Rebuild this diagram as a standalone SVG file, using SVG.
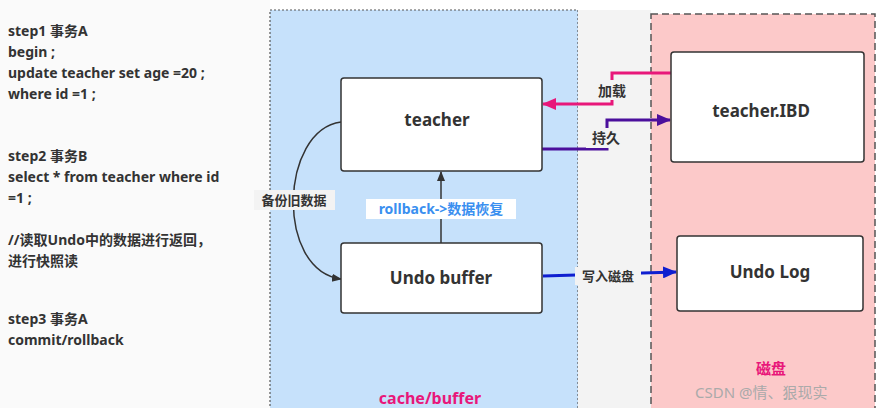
<svg xmlns="http://www.w3.org/2000/svg" width="881" height="408" viewBox="0 0 881 408">
<style>
text{font-family:"Noto Sans","Noto Sans CJK SC",sans-serif;font-weight:bold;fill:#333}
.node{fill:#fff;stroke:#333;stroke-width:1.5}
.big{font-size:17px}
</style>
<defs>
<marker id="aD" markerWidth="10" markerHeight="10" refX="9" refY="5" orient="auto" markerUnits="userSpaceOnUse"><path d="M0,1 L10,5 L0,9 Z" fill="#333"/></marker>
<marker id="aP" markerWidth="14" markerHeight="12" refX="13" refY="6" orient="auto" markerUnits="userSpaceOnUse"><path d="M0,0 L14,6 L0,12 Z" fill="#e8177a"/></marker>
<marker id="aV" markerWidth="14" markerHeight="12" refX="13" refY="6" orient="auto" markerUnits="userSpaceOnUse"><path d="M0,0 L14,6 L0,12 Z" fill="#4b0f9c"/></marker>
<marker id="aB" markerWidth="14" markerHeight="12" refX="13" refY="6" orient="auto" markerUnits="userSpaceOnUse"><path d="M0,0 L14,6 L0,12 Z" fill="#0f1fd0"/></marker>
</defs>
<rect width="881" height="408" fill="#fff"/>
<rect x="0" y="0" width="270" height="408" fill="#fafafa"/>
<g id="cache">
<rect x="270" y="10" width="308" height="410" fill="#c6e1fb" stroke="#555" stroke-dasharray="2,2" stroke-width="1.2"/>
<text x="430" y="404" font-size="16" text-anchor="middle" style="fill:#e8177a">cache/buffer</text>
</g>
<rect x="578" y="10" width="73" height="398" fill="#f3f3f3"/>
<g id="disk">
<rect x="651" y="14" width="224" height="400" fill="#fcc9c9" stroke="#555" stroke-dasharray="7,4" stroke-width="1.5"/>
<text x="771" y="374" font-size="15" text-anchor="middle" style="fill:#e8177a">磁盘</text>
</g>
<g id="steps" font-size="14">
<text x="8" y="36">step1  事务A</text>
<text x="8" y="57">begin ;</text>
<text x="8" y="78">update teacher set age =20 ;</text>
<text x="8" y="99">where id =1 ;</text>
<text x="8" y="161">step2  事务B</text>
<text x="8" y="182">select * from teacher where id</text>
<text x="8" y="203">=1 ;</text>
<text x="8" y="245">//读取Undo中的数据进行返回，</text>
<text x="8" y="266">进行快照读</text>
<text x="8" y="324">step3 事务A</text>
<text x="8" y="345">commit/rollback</text>
</g>
<g id="connectors" fill="none">
<path d="M341,122 C280,130 275,270 341,279" stroke="#333" stroke-width="1.5" marker-end="url(#aD)"/>
<path d="M441,243 L441,172" stroke="#333" stroke-width="1.5" marker-end="url(#aD)"/>
<path d="M671,73 L612,73 L612,104 L543,104" stroke="#e8177a" stroke-width="3" marker-end="url(#aP)"/>
<path d="M542,149 L607,149 L607,120 L670,120" stroke="#4b0f9c" stroke-width="3" marker-end="url(#aV)"/>
<path d="M543,276 L676,272" stroke="#0f1fd0" stroke-width="3" marker-end="url(#aB)"/>
<rect x="254" y="190" width="81" height="20" fill="#f3f3f3"/>
<text x="294" y="205" font-size="13" text-anchor="middle" stroke="none">备份旧数据</text>
<rect x="366" y="199" width="150" height="20" fill="#fff"/>
<text x="441" y="214" font-size="14" text-anchor="middle" stroke="none" style="fill:#3a8ff0">rollback-&gt;数据恢复</text>
<rect x="592" y="80" width="40" height="20" fill="#f3f3f3"/>
<text x="612" y="96" font-size="14" text-anchor="middle" stroke="none">加载</text>
<rect x="586" y="128" width="40" height="20" fill="#f3f3f3"/>
<text x="606" y="143" font-size="14" text-anchor="middle" stroke="none">持久</text>
<rect x="575" y="267" width="66" height="18" fill="#f3f3f3"/>
<text x="608" y="281" font-size="13" text-anchor="middle" stroke="none">写入磁盘</text>
</g>
<g id="teacher"><rect class="node" x="341" y="78" width="201" height="93" rx="3"/><text x="437" y="126" class="big" text-anchor="middle">teacher</text></g>
<g id="undo"><rect class="node" x="341" y="243" width="201" height="70" rx="3"/><text x="441" y="284" class="big" text-anchor="middle">Undo buffer</text></g>
<g id="ibd"><rect class="node" x="671" y="52" width="193" height="110" rx="3"/><text x="761" y="117" class="big" text-anchor="middle">teacher.IBD</text></g>
<g id="undolog"><rect class="node" x="677" y="236" width="186" height="75" rx="3"/><text x="770" y="278" class="big" text-anchor="middle">Undo Log</text></g>
<text x="695" y="398" font-size="15" style="font-weight:normal;fill:#aaa">CSDN @情、狠现实</text>
</svg>
